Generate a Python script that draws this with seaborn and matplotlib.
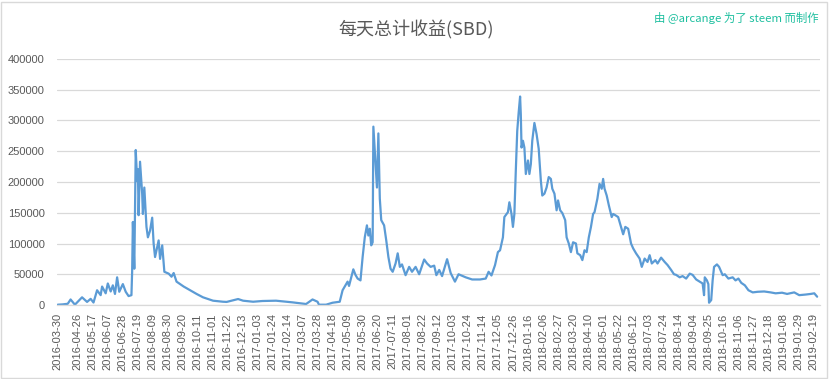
# -*- coding: utf-8 -*-
# daily total payout (SBD) chart, excel style look

import pandas as pd
import matplotlib.pyplot as plt
from matplotlib.patches import Rectangle
import seaborn as sns

# values (SBD per day)
dates = [
    "2016-03-30", "2016-04-06", "2016-04-13", "2016-04-17", "2016-04-23",
    "2016-05-03", "2016-05-10", "2016-05-15", "2016-05-19", "2016-05-24",
    "2016-05-29", "2016-05-31", "2016-06-05", "2016-06-08", "2016-06-12",
    "2016-06-15", "2016-06-18", "2016-06-21", "2016-06-24", "2016-06-29",
    "2016-07-03", "2016-07-07", "2016-07-11", "2016-07-12", "2016-07-13",
    "2016-07-15", "2016-07-17", "2016-07-19", "2016-07-20", "2016-07-21",
    "2016-07-23", "2016-07-26", "2016-07-27", "2016-07-29", "2016-08-01",
    "2016-08-03", "2016-08-06", "2016-08-09", "2016-08-11", "2016-08-13",
    "2016-08-16", "2016-08-18", "2016-08-20", "2016-08-23", "2016-08-26",
    "2016-09-01", "2016-09-05", "2016-09-08", "2016-09-12", "2016-09-22",
    "2016-10-01", "2016-10-10", "2016-10-19", "2016-11-02", "2016-11-16",
    "2016-11-21", "2016-12-07", "2016-12-14", "2016-12-28", "2017-01-10",
    "2017-01-29", "2017-02-21", "2017-03-12", "2017-03-21", "2017-03-28",
    "2017-03-30", "2017-04-09", "2017-04-18", "2017-04-28", "2017-05-02",
    "2017-05-09", "2017-05-11", "2017-05-17", "2017-05-20", "2017-05-23",
    "2017-05-27", "2017-05-30", "2017-06-02", "2017-06-05", "2017-06-07",
    "2017-06-09", "2017-06-11", "2017-06-13", "2017-06-14", "2017-06-17",
    "2017-06-19", "2017-06-21", "2017-06-23", "2017-06-25", "2017-06-29",
    "2017-07-02", "2017-07-05", "2017-07-08", "2017-07-11", "2017-07-15",
    "2017-07-18", "2017-07-21", "2017-07-24", "2017-07-29", "2017-08-03",
    "2017-08-07", "2017-08-12", "2017-08-17", "2017-08-24", "2017-08-28",
    "2017-09-02", "2017-09-07", "2017-09-10", "2017-09-14", "2017-09-18",
    "2017-09-25", "2017-09-30", "2017-10-06", "2017-10-11", "2017-10-21",
    "2017-10-30", "2017-11-10", "2017-11-18", "2017-11-22", "2017-11-26",
    "2017-12-01", "2017-12-05", "2017-12-08", "2017-12-12", "2017-12-14",
    "2017-12-19", "2017-12-21", "2017-12-24", "2017-12-26", "2017-12-28",
    "2017-12-30", "2018-01-01", "2018-01-03", "2018-01-05", "2018-01-06",
    "2018-01-07", "2018-01-09", "2018-01-11", "2018-01-13", "2018-01-16",
    "2018-01-18", "2018-01-20", "2018-01-22", "2018-01-25", "2018-01-28",
    "2018-01-31", "2018-02-03", "2018-02-05", "2018-02-08", "2018-02-11",
    "2018-02-14", "2018-02-17", "2018-02-19", "2018-02-22", "2018-02-25",
    "2018-02-27", "2018-03-02", "2018-03-05", "2018-03-09", "2018-03-11",
    "2018-03-14", "2018-03-17", "2018-03-20", "2018-03-24", "2018-03-26",
    "2018-03-30", "2018-04-02", "2018-04-05", "2018-04-08", "2018-04-11",
    "2018-04-14", "2018-04-17", "2018-04-19", "2018-04-23", "2018-04-26",
    "2018-04-29", "2018-05-01", "2018-05-03", "2018-05-06", "2018-05-09",
    "2018-05-13", "2018-05-15", "2018-05-18", "2018-05-22", "2018-05-26",
    "2018-05-29", "2018-06-01", "2018-06-05", "2018-06-09", "2018-06-12",
    "2018-06-16", "2018-06-21", "2018-06-24", "2018-06-28", "2018-07-02",
    "2018-07-05", "2018-07-08", "2018-07-13", "2018-07-16", "2018-07-21",
    "2018-07-26", "2018-07-30", "2018-08-04", "2018-08-08", "2018-08-11",
    "2018-08-16", "2018-08-20", "2018-08-25", "2018-08-30", "2018-09-03",
    "2018-09-08", "2018-09-13", "2018-09-17", "2018-09-19", "2018-09-20",
    "2018-09-23", "2018-09-25", "2018-09-26", "2018-09-29", "2018-10-01",
    "2018-10-03", "2018-10-07", "2018-10-10", "2018-10-15", "2018-10-18",
    "2018-10-23", "2018-10-29", "2018-11-02", "2018-11-06", "2018-11-10",
    "2018-11-15", "2018-11-20", "2018-11-26", "2018-12-03", "2018-12-12",
    "2018-12-21", "2018-12-28", "2019-01-06", "2019-01-13", "2019-01-23",
    "2019-01-30", "2019-02-08", "2019-02-15", "2019-02-20", "2019-02-24",
]

sbd = [
    500, 1000, 2000, 9000, 500,
    12500, 5000, 10000, 4000, 24000,
    16000, 30000, 19000, 35000, 22000,
    32000, 18000, 45000, 21500, 34000,
    21500, 14500, 16000, 55000, 135000,
    59000, 252000, 202000, 221000, 146000,
    233000, 181000, 148000, 191000, 127000,
    110000, 121000, 142000, 100000, 78000,
    94000, 105000, 75000, 97000, 54000,
    51000, 46000, 52000, 38000, 30000,
    24000, 18000, 12500, 7000, 5300,
    5000, 9700, 7000, 5300, 6500,
    7000, 4300, 1600, 9000, 5300,
    500, 500, 3700, 5300, 24000,
    38000, 31000, 58000, 49000, 43000,
    40000, 78000, 110000, 129500, 113000,
    124000, 97000, 102000, 290000, 229000,
    191000, 279000, 173000, 138000, 129500,
    105000, 78000, 59000, 54000, 67500,
    84000, 62000, 66000, 48500, 62000,
    54000, 62000, 50000, 74000, 67500,
    62000, 64000, 48500, 57000, 47000,
    74500, 52000, 38000, 50000, 45000,
    41500, 41500, 43000, 54000, 48000,
    65000, 86000, 89000, 110000, 143000,
    151000, 167000, 148000, 127000, 148000,
    218500, 283000, 313000, 339000, 310000,
    256000, 267000, 256000, 213000, 235000,
    213000, 229000, 267000, 296000, 278000,
    254000, 202000, 178000, 181000, 191000,
    208000, 205000, 189000, 181000, 154000,
    170000, 154000, 149500, 138000, 110000,
    100000, 86000, 102000, 100000, 84000,
    81000, 73000, 89000, 86000, 110000,
    127000, 148000, 151000, 173000, 197000,
    189000, 205000, 189000, 178000, 162000,
    143000, 148000, 146000, 143000, 127000,
    115000, 127000, 124000, 100000, 92000,
    84000, 75500, 62000, 75500, 70000,
    81000, 67500, 73000, 67500, 77000,
    70000, 65000, 57000, 50000, 49000,
    45000, 47000, 43000, 51000, 49000,
    41500, 38000, 35000, 16000, 45000,
    40000, 34000, 3700, 8000, 40000,
    62000, 66000, 62000, 48500, 50000,
    43000, 45000, 40000, 43000, 36000,
    32000, 24000, 20500, 21500, 22000,
    20500, 19000, 20000, 18000, 20500,
    16000, 17000, 18000, 19000, 13500,
]

tick_labels = [
    "2016-03-30", "2016-04-26", "2016-05-17", "2016-06-07", "2016-06-28",
    "2016-07-19", "2016-08-09", "2016-08-30", "2016-09-20", "2016-10-11",
    "2016-11-01", "2016-11-22", "2016-12-13", "2017-01-03", "2017-01-24",
    "2017-02-14", "2017-03-07", "2017-03-28", "2017-04-18", "2017-05-09",
    "2017-05-30", "2017-06-20", "2017-07-11", "2017-08-01", "2017-08-22",
    "2017-09-12", "2017-10-03", "2017-10-24", "2017-11-14", "2017-12-05",
    "2017-12-26", "2018-01-16", "2018-02-06", "2018-02-27", "2018-03-20",
    "2018-04-10", "2018-05-01", "2018-05-22", "2018-06-12", "2018-07-03",
    "2018-07-24", "2018-08-14", "2018-09-04", "2018-09-25", "2018-10-16",
    "2018-11-06", "2018-11-27", "2018-12-18", "2019-01-08", "2019-01-29",
    "2019-02-19",
]

title_text = "每天总计收益(SBD)"
credit_text = "由 @arcange 为了 steem 而制作"

df = pd.DataFrame({"date": pd.to_datetime(dates), "sbd": sbd})

sns.set_theme(style="white")
plt.rcParams["font.family"] = ["Liberation Sans", "Noto Sans CJK SC", "DejaVu Sans"]

grey_txt = "#595959"
grid_col = "#D9D9D9"

fig = plt.figure(figsize=(8.33, 3.79), dpi=100)
ax = fig.add_axes([57 / 833, 1 - 305 / 379, (820 - 57) / 833, (305 - 59) / 379])

sns.lineplot(data=df, x="date", y="sbd", ax=ax, color="#5B9BD5", linewidth=1.6)
ax.lines[0].set_solid_joinstyle("round")

ax.set_ylim(0, 400000)
ax.set_yticks(range(0, 400001, 50000))
ax.set_yticklabels([str(v) for v in range(0, 400001, 50000)])
ax.set_xlim(pd.Timestamp("2016-03-29"), pd.Timestamp("2019-02-28"))
ax.set_xticks(pd.to_datetime(tick_labels))
ax.set_xticklabels(tick_labels, rotation=90)

ax.set_xlabel("")
ax.set_ylabel("")
ax.tick_params(axis="both", length=0, labelsize=8, colors=grey_txt)
ax.tick_params(axis="y", pad=9)
ax.tick_params(axis="x", pad=6)

ax.yaxis.grid(True, color=grid_col, linewidth=0.9)
ax.xaxis.grid(False)
ax.set_axisbelow(True)
for s in ["top", "right", "left"]:
    ax.spines[s].set_visible(False)
ax.spines["bottom"].set_color(grid_col)
ax.spines["bottom"].set_linewidth(0.9)

fig.text(0.5, 1 - 30 / 379, title_text, ha="center", va="center",
         fontsize=13, color=grey_txt, family=["Noto Sans CJK SC", "DejaVu Sans"])
fig.text(819 / 833, 1 - 18 / 379, credit_text, ha="right", va="center",
         fontsize=8.2, color="#1DBF9F", family=["Noto Sans CJK SC", "DejaVu Sans"])

# chart area frame
fig.patches.append(Rectangle((1 / 833, 1 / 379), 826 / 833, 376 / 379,
                             transform=fig.transFigure, fill=False,
                             edgecolor=grid_col, linewidth=1))

fig.savefig("out.png", dpi=100)
